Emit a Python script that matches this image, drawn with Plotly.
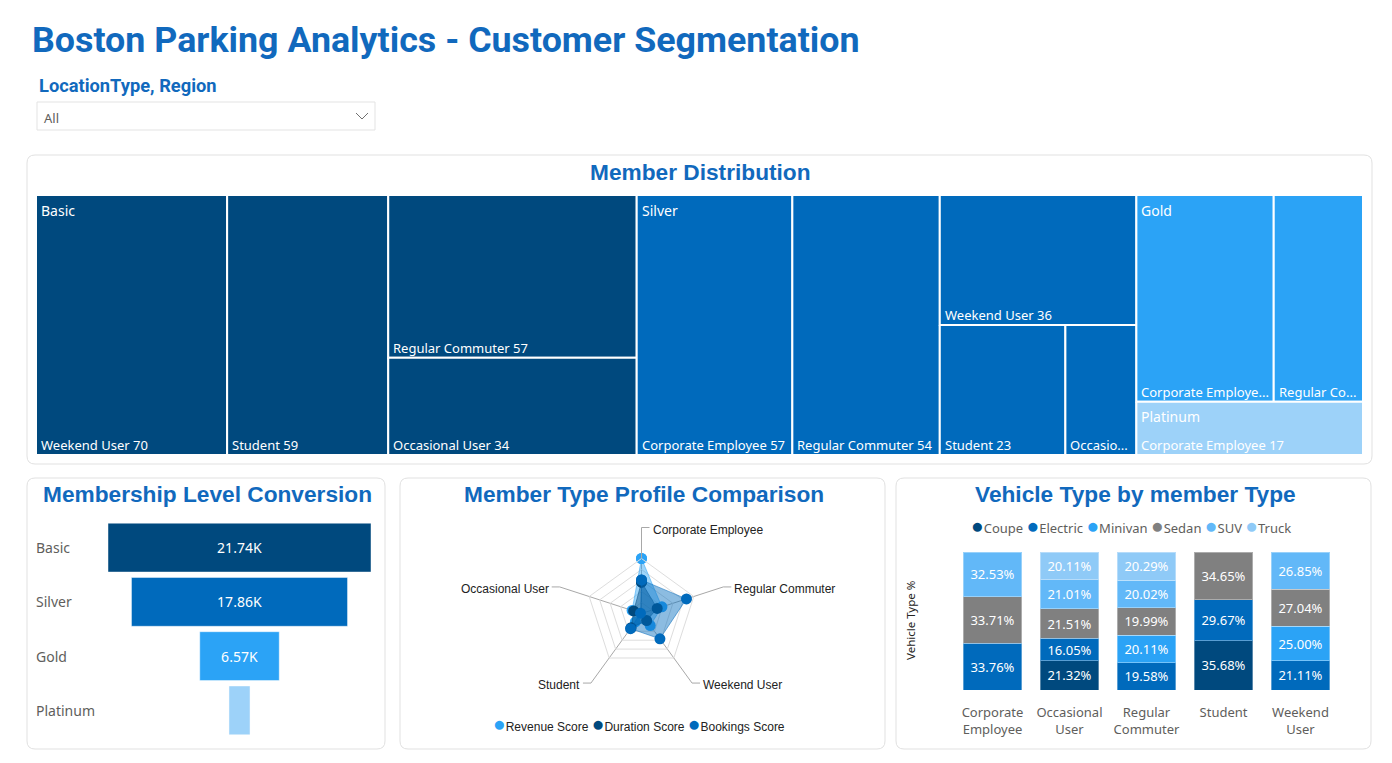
import math
import plotly.graph_objects as go

W, H = 1392, 763
def px(x): return x / W
def py(y): return 1 - y / H

TITLE_BLUE = "#1169BD"
GREY_TXT = "#605E5C"
UI_FONT = "Noto Sans"
HEAD_FONT = "Liberation Sans"

# ---------------- data ----------------
tiers = ["Basic", "Silver", "Gold", "Platinum"]
tier_colors = ["#00497E", "#006ABC", "#2BA3F6", "#9DD2F9"]

basic_types = ["Weekend User", "Student", "Regular Commuter", "Occasional User"]
basic_counts = [70, 59, 57, 34]
silver_types = ["Corporate Employee", "Regular Commuter", "Weekend User", "Student", "Occasional User"]
silver_counts = [57, 54, 36, 23, 13]
gold_types = ["Corporate Employee", "Regular Commuter"]
gold_counts = [40, 26]
platinum_types = ["Corporate Employee"]
platinum_counts = [17]

funnel_levels = ["Basic", "Silver", "Gold", "Platinum"]
funnel_members = [21740, 17860, 6570, 1740]

radar_axes = ["Corporate Employee", "Regular Commuter", "Weekend User", "Student", "Occasional User"]
radar_series = ["Revenue Score", "Duration Score", "Bookings Score"]
radar_colors = ["#2BA3F6", "#00497E", "#006ABC"]
revenue_score = [100, 39, 27, 19, 18]
duration_score = [57, 30, 16, 32, 15]
bookings_score = [61, 86, 57, 34, 2]

member_categories = ["Corporate Employee", "Occasional User", "Regular Commuter", "Student", "Weekend User"]
vehicle_types = ["Coupe", "Electric", "Minivan", "Sedan", "SUV", "Truck"]
vehicle_colors = ["#00497E", "#006ABC", "#2BA3F6", "#808080", "#62B8F8", "#8FCAF7"]
coupe_pct = [None, 21.32, None, 35.68, None]
electric_pct = [33.76, 16.05, 19.58, 29.67, 21.11]
minivan_pct = [None, None, 20.11, None, 25.00]
sedan_pct = [33.71, 21.51, 19.99, 34.65, 27.04]
suv_pct = [32.53, 21.01, 20.02, None, 26.85]
truck_pct = [None, 20.11, 20.29, None, None]

# ---------------- helpers ----------------
fig = go.Figure()
shapes = []
annotations = []

def rrect(x0, y0, x1, y1, r=8, line="#E1E1E1", fill="white"):
    path = (f"M {px(x0+r)},{py(y0)} L {px(x1-r)},{py(y0)} Q {px(x1)},{py(y0)} {px(x1)},{py(y0+r)} "
            f"L {px(x1)},{py(y1-r)} Q {px(x1)},{py(y1)} {px(x1-r)},{py(y1)} "
            f"L {px(x0+r)},{py(y1)} Q {px(x0)},{py(y1)} {px(x0)},{py(y1-r)} "
            f"L {px(x0)},{py(y0+r)} Q {px(x0)},{py(y0)} {px(x0+r)},{py(y0)} Z")
    return dict(type="path", xref="paper", yref="paper", path=path,
                line=dict(color=line, width=1), fillcolor=fill, layer="below")

def label(x, y, s, size, color, family=UI_FONT, weight="normal", xanchor="left", yanchor="middle", **kw):
    d = dict(xref="paper", yref="paper", x=px(x), y=py(y), text=s, showarrow=False,
             xanchor=xanchor, yanchor=yanchor,
             font=dict(size=size, color=color, family=family, weight=weight))
    d.update(kw)
    return d

def text_w(s, size=13):
    narrow = set(" .,:;il1|!'tfjrI")
    wide = set("mwMW")
    w = 0.0
    for c in s:
        if c in narrow: w += 0.30
        elif c in wide: w += 0.85
        elif c.isupper(): w += 0.65
        else: w += 0.55
    return w * size

def fit(s, avail, size=13):
    if text_w(s, size) <= avail:
        return s
    for n in range(len(s) - 1, 0, -1):
        t = s[:n].rstrip() + "..."
        if text_w(t, size) <= avail:
            return t
    return ""

def squarify(values, x, y, w, h):
    total = float(sum(values))
    areas = [v * w * h / total for v in values]
    rects = []
    def worst(row, side):
        s = sum(row)
        return max(max(side * side * r / (s * s), s * s / (side * side * r)) for r in row)
    i = 0
    while i < len(areas):
        side = min(w, h)
        row = [areas[i]]
        j = i + 1
        while j < len(areas) and worst(row + [areas[j]], side) <= worst(row, side):
            row.append(areas[j]); j += 1
        s = sum(row)
        if w >= h:
            cw = s / h
            yy = y
            for a in row:
                rects.append((x, yy, cw, a / cw)); yy += a / cw
            x += cw; w -= cw
        else:
            rh = s / w
            xx = x
            for a in row:
                rects.append((xx, y, a / rh, rh)); xx += a / rh
            y += rh; h -= rh
        i = j
    return rects

# ---------------- page furniture ----------------
annotations.append(label(30, 40, "Boston Parking Analytics - Customer Segmentation", 35.8, TITLE_BLUE,
                         family="Roboto", weight="bold"))
annotations.append(label(37, 85, "LocationType, Region", 18.3, TITLE_BLUE, family="Roboto", weight="bold"))
shapes.append(dict(type="rect", xref="paper", yref="paper", x0=px(37), x1=px(375), y0=py(130), y1=py(102),
                   line=dict(color="#E3E3E3", width=1), fillcolor="white", layer="below"))
annotations.append(label(42, 118, "All", 13, GREY_TXT))
shapes.append(dict(type="path", xref="paper", yref="paper",
                   path=f"M {px(356)},{py(113)} L {px(362)},{py(119)} L {px(368)},{py(113)}",
                   line=dict(color="#707070", width=1)))

for (a, b, c, d) in [(27, 155, 1372, 464), (27, 478, 385, 749), (400, 478, 885, 749), (896, 478, 1371, 749)]:
    shapes.append(rrect(a, b, c, d))

annotations.append(label(700, 172, "Member Distribution", 22.7, TITLE_BLUE, family=HEAD_FONT, weight="bold", xanchor="center"))
annotations.append(label(207.5, 494, "Membership Level Conversion", 22.7, TITLE_BLUE, family=HEAD_FONT, weight="bold", xanchor="center"))
annotations.append(label(643.5, 494, "Member Type Profile Comparison", 22.7, TITLE_BLUE, family=HEAD_FONT, weight="bold", xanchor="center"))
annotations.append(label(1135, 494, "Vehicle Type by member Type", 22.7, TITLE_BLUE, family=HEAD_FONT, weight="bold", xanchor="center"))

# ---------------- treemap (squarified) ----------------
TM_X0, TM_Y0, TM_X1, TM_Y1 = 36, 195, 1363, 455
TW, TH = TM_X1 - TM_X0, TM_Y1 - TM_Y0
tier_types = [basic_types, silver_types, gold_types, platinum_types]
tier_counts = [basic_counts, silver_counts, gold_counts, platinum_counts]
tier_rects = squarify([sum(c) for c in tier_counts], 0, 0, TW, TH)
for ti, (tx, ty, tww, thh) in enumerate(tier_rects):
    child_rects = squarify(tier_counts[ti], tx, ty, tww, thh)
    for ci, (x0, y0, cw, ch) in enumerate(child_rects):
        name, cnt = tier_types[ti][ci], tier_counts[ti][ci]
        fig.add_trace(go.Scatter(
            x=[x0, x0 + cw, x0 + cw, x0, x0], y=[y0, y0, y0 + ch, y0 + ch, y0],
            fill="toself", fillcolor=tier_colors[ti], mode="lines",
            line=dict(color="white", width=2), xaxis="x3", yaxis="y3",
            hoverinfo="text", hoveron="fills", text=f"{tiers[ti]} / {name}: {cnt}", showlegend=False))
        annotations.append(dict(xref="x3", yref="y3", x=x0 + 3, y=y0 + ch - 10,
                                text=fit(f"{name} {cnt}", cw - 10), showarrow=False,
                                xanchor="left", yanchor="middle",
                                font=dict(size=13, color="white", family=UI_FONT)))
    annotations.append(dict(xref="x3", yref="y3", x=tx + 3, y=ty + 15, text=tiers[ti], showarrow=False,
                            xanchor="left", yanchor="middle", font=dict(size=14, color="white", family=UI_FONT)))

# ---------------- funnel ----------------
fmax = max(funnel_members)
funnel_text = [f"{v/1000:.2f}K" if v >= 0.2 * fmax else "" for v in funnel_members]
fig.add_trace(go.Funnel(
    y=funnel_levels, x=funnel_members, orientation="h",
    marker=dict(color=tier_colors, line=dict(color="rgba(255,255,255,0.45)", width=1)),
    text=funnel_text, texttemplate="%{text}", textposition="inside", insidetextanchor="middle",
    textfont=dict(color="white", size=14, family=UI_FONT),
    connector=dict(visible=False), xaxis="x", yaxis="y", hoverinfo="x+y", showlegend=False))
for lvl in funnel_levels:
    annotations.append(dict(xref="paper", yref="y", x=px(34), y=lvl, text=lvl, showarrow=False,
                            xanchor="left", yanchor="middle", font=dict(size=14, color=GREY_TXT, family=UI_FONT)))

# ---------------- radar ----------------
RCX, RCY, RR = 641.5, 613.5, 55
for name, vals, col in zip(radar_series, [revenue_score, duration_score, bookings_score], radar_colors):
    r = int(col[1:3], 16), int(col[3:5], 16), int(col[5:7], 16)
    fig.add_trace(go.Scatterpolar(
        r=vals + vals[:1], theta=radar_axes + radar_axes[:1], name=name,
        mode="lines+markers", fill="toself",
        fillcolor=f"rgba({r[0]},{r[1]},{r[2]},0.45)",
        line=dict(color=f"rgba({r[0]},{r[1]},{r[2]},0.5)", width=1),
        marker=dict(color=col, size=11), showlegend=False))

for k, ax in enumerate(radar_axes):
    th = math.radians(90 - 72 * k)
    vx, vy = RCX + RR * math.cos(th), RCY - RR * math.sin(th)
    ex, ey = RCX + 86 * math.cos(th), RCY - 86 * math.sin(th)
    dirn = 1 if math.cos(th) > -1e-9 else -1
    hx = ex + 8 * dirn
    shapes.append(dict(type="path", xref="paper", yref="paper",
                       path=f"M {px(vx)},{py(vy)} L {px(ex)},{py(ey)} L {px(hx)},{py(ey)}",
                       line=dict(color="#A8A8A8", width=1)))
    annotations.append(label(hx + 1 * dirn, ey + 2, ax, 12, "#222222", family=HEAD_FONT,
                             xanchor="left" if dirn > 0 else "right"))

radar_legend = " ".join(f"<span style='color:{c};font-size:21px'>●</span>{n}" for n, c in zip(radar_series, radar_colors))
annotations.append(label(639, 723, radar_legend, 12, "#222222", family=HEAD_FONT, xanchor="center"))

# ---------------- vehicle stacked columns ----------------
for vt, vals, col in zip(vehicle_types, [coupe_pct, electric_pct, minivan_pct, sedan_pct, suv_pct, truck_pct], vehicle_colors):
    fig.add_trace(go.Bar(
        x=member_categories, y=vals, name=vt, marker=dict(color=col, line=dict(color="rgba(255,255,255,0.35)", width=1)),
        text=[f"{v:.2f}%" if v else "" for v in vals], textposition="inside", insidetextanchor="middle",
        textfont=dict(color="white", size=13, family=UI_FONT), xaxis="x2", yaxis="y2", showlegend=False))

veh_legend = " ".join(f"<span style='color:{c};font-size:21px'>●</span>{n}" for n, c in zip(vehicle_types, vehicle_colors))
annotations.append(label(1131, 525, veh_legend, 13, GREY_TXT, xanchor="center"))
annotations.append(label(910, 621, "Vehicle Type %", 11.5, "#252423", xanchor="center", textangle=-90))

# ---------------- layout ----------------
fig.update_layout(
    width=W, height=H, margin=dict(l=0, r=0, t=0, b=0),
    paper_bgcolor="white", plot_bgcolor="rgba(0,0,0,0)",
    showlegend=False, barmode="stack", bargap=0.234, funnelgap=0.1,
    uniformtext=dict(minsize=13, mode="show"),
    xaxis=dict(domain=[px(108), px(371)], range=[-fmax / 2, fmax / 2], visible=False, fixedrange=True),
    yaxis=dict(domain=[py(737.5), py(520.5)], categoryorder="array", categoryarray=funnel_levels,
               autorange="reversed", visible=False, fixedrange=True),
    xaxis2=dict(domain=[px(954), px(1339)], anchor="y2", showline=False, showgrid=False, ticks="",
                tickvals=member_categories, ticktext=[c.replace(" ", "<br>") for c in member_categories],
                tickfont=dict(size=13, color=GREY_TXT, family=UI_FONT), ticklabelstandoff=13, fixedrange=True),
    yaxis2=dict(domain=[py(690), py(552)], anchor="x2", range=[0, 100], visible=False, fixedrange=True),
    xaxis3=dict(domain=[px(TM_X0), px(TM_X1)], range=[0, TW], visible=False, anchor="y3", fixedrange=True),
    yaxis3=dict(domain=[py(TM_Y1), py(TM_Y0)], range=[TH, 0], visible=False, anchor="x3", fixedrange=True),
    polar=dict(
        domain=dict(x=[px(RCX - RR), px(RCX + RR)], y=[py(RCY + RR), py(RCY - RR)]),
        bgcolor="rgba(0,0,0,0)", gridshape="linear",
        radialaxis=dict(range=[0, 100], tickvals=[20, 40, 60, 80, 100], showticklabels=False, ticks="",
                        showline=False, gridcolor="#DDDDDD", gridwidth=1),
        angularaxis=dict(rotation=90, direction="clockwise", showticklabels=False, ticks="",
                         gridcolor="#A8A8A8", linecolor="#DDDDDD", showline=True,
                         categoryorder="array", categoryarray=radar_axes)),
    shapes=shapes, annotations=annotations,
)

fig.write_html("out.html")
